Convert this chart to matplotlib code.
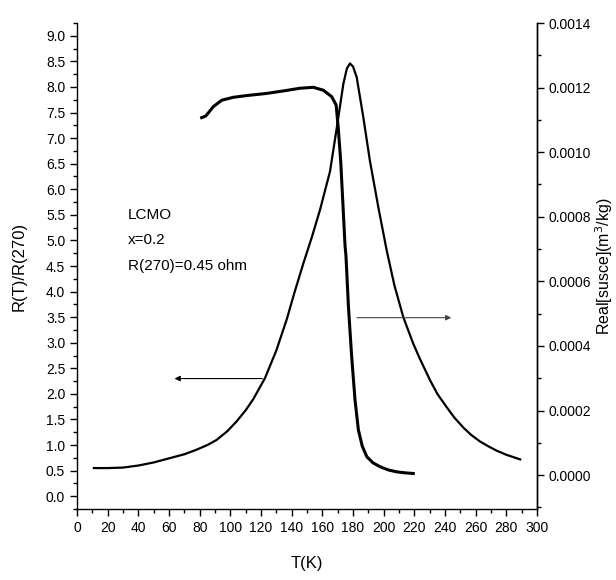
import matplotlib.pyplot as plt
import numpy as np
from matplotlib.ticker import MultipleLocator, FormatStrFormatter

plt.rcParams['font.family'] = ['Liberation Sans', 'DejaVu Sans']

# R(T)/R(270) vs T (left axis)
T_res = [11, 20, 30, 40, 50, 60, 70, 78, 85, 91, 98, 104, 110, 115, 122.6, 130, 136.7,
         142, 147.6, 153, 158.5, 165, 169.4, 173.7, 176, 178, 180, 182.4, 186.7, 191,
         196.5, 202, 207, 212.8, 219.3, 223.7, 230.2, 235, 241.1, 246, 252, 257, 262.8,
         268, 273.7, 280, 289]
R_res = [0.55, 0.55, 0.56, 0.60, 0.66, 0.74, 0.82, 0.91, 1.00, 1.10, 1.27, 1.46, 1.68,
         1.90, 2.31, 2.85, 3.45, 4.00, 4.55, 5.05, 5.60, 6.35, 7.20, 8.06, 8.36, 8.46,
         8.40, 8.19, 7.41, 6.56, 5.65, 4.80, 4.12, 3.50, 2.98, 2.68, 2.27, 2.00, 1.74,
         1.54, 1.34, 1.20, 1.07, 0.98, 0.89, 0.81, 0.72]

# real part of susceptibility vs T (right axis)
T_chi = [81.3, 84, 88.9, 94.4, 102, 110, 123.7, 135, 145.4, 154.1, 160.6, 166.1, 169,
         170.4, 172, 174.8, 175.4, 177, 179.1, 181.3, 183.5, 186, 189, 193, 197.6, 203,
         208.5, 214, 219.3]
chi = [0.001107, 0.001112, 0.001141, 0.001161, 0.001170, 0.001175, 0.001182, 0.001190,
       0.001198, 0.001201, 0.001192, 0.001172, 0.001146, 0.001073, 0.000970, 0.000710,
       0.000679, 0.000523, 0.000368, 0.000233, 0.000140, 0.000090, 0.000057, 0.000038,
       0.000026, 0.000016, 0.000010, 0.000007, 0.000005]

fig = plt.figure(figsize=(6.16, 5.8), dpi=100)
ax = fig.add_axes([0.125, 0.1224, 0.7468, 0.8379])
ax2 = ax.twinx()

ax.plot(T_res, R_res, color='black', lw=1.6)
ax2.plot(T_chi, chi, color='black', lw=2.2)

ax.set_xlim(0, 300)
ax.set_ylim(-0.25, 9.25)
ax2.set_ylim(-0.000105, 0.0014)

ax.xaxis.set_major_locator(MultipleLocator(20))
ax.xaxis.set_minor_locator(MultipleLocator(10))
ax.yaxis.set_major_locator(MultipleLocator(0.5))
ax.yaxis.set_minor_locator(MultipleLocator(0.25))
ax.yaxis.set_major_formatter(FormatStrFormatter('%.1f'))
ax2.yaxis.set_major_locator(MultipleLocator(0.0002))
ax2.yaxis.set_minor_locator(MultipleLocator(0.0001))
ax2.yaxis.set_major_formatter(FormatStrFormatter('%.4f'))

for a in (ax, ax2):
    a.spines['top'].set_visible(False)
    for s in a.spines.values():
        s.set_linewidth(1.0)
    a.tick_params(which='major', length=5, width=1, labelsize=10, direction='out')
    a.tick_params(which='minor', length=3, width=1, direction='out')
ax2.spines['left'].set_visible(False)
ax2.spines['bottom'].set_visible(False)

ax.set_xlabel('T(K)', fontsize=12, labelpad=15)
ax.set_ylabel('R(T)/R(270)', fontsize=12, labelpad=14)
ax2.set_ylabel('Real[susce](m$^3$/kg)', fontsize=11.5, labelpad=1)

ax.text(33, 5.5, 'LCMO', fontsize=11, va='center')
ax.text(33, 5.0, 'x=0.2', fontsize=11, va='center')
ax.text(33, 4.5, 'R(270)=0.45 ohm', fontsize=11, va='center')

# arrows pointing to each curve's axis
ax.annotate('', xy=(61.8, 2.30), xytext=(122.6, 2.30),
            arrowprops=dict(arrowstyle='-|>', color='black', lw=0.8, mutation_scale=8))
ax.annotate('', xy=(245.9, 3.49), xytext=(180.8, 3.49),
            arrowprops=dict(arrowstyle='-|>', color='#444444', lw=0.8, mutation_scale=8))

plt.savefig('out.png', dpi=100)
